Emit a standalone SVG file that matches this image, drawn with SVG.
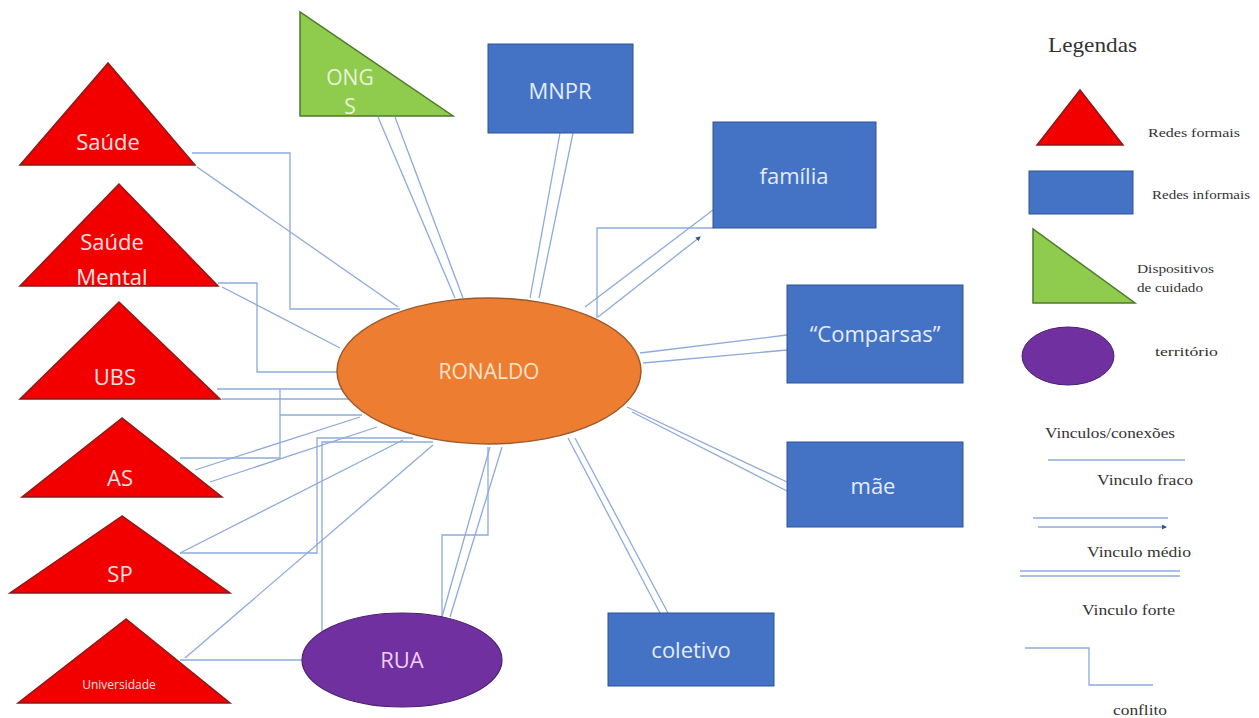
<svg xmlns="http://www.w3.org/2000/svg" width="1259" height="718" viewBox="0 0 1259 718">
<defs>
<style>
.c{fill:none;stroke:#8eaadb;stroke-width:1.3}
.tri{fill:#f20000;stroke:#8b1a1a;stroke-width:1.5}
.box{fill:#4472c4;stroke:#2f528f;stroke-width:1}
.grn{fill:#8fcb4c;stroke:#4e7a2a;stroke-width:1.5}
.lbl{font-family:"Open Sans","Liberation Sans",sans-serif;font-size:22px;text-anchor:middle}
.wr{fill:#fbe0e0}
.wb{fill:#e4ecfa}
.lg{font-family:"Liberation Serif",serif;font-size:14px;fill:#333333}
.ls{font-size:13px}
</style>
<marker id="arr" viewBox="0 0 10 10" refX="8" refY="5" markerWidth="5" markerHeight="5" orient="auto" markerUnits="userSpaceOnUse">
<path d="M0,0 L10,5 L0,10 z" fill="#2f5597"/>
</marker>
</defs>
<rect width="1259" height="718" fill="#ffffff"/>

<g id="connectors">
<line class="c" x1="197" y1="167" x2="398" y2="307"/>
<line class="c" x1="222" y1="287" x2="340" y2="348"/>
<line class="c" x1="180" y1="553" x2="403" y2="440"/>
<line class="c" x1="185" y1="658" x2="433" y2="445"/>
<line class="c" x1="180" y1="660" x2="303" y2="660"/>
<line class="c" x1="217" y1="389" x2="346" y2="389"/>
<line class="c" x1="222" y1="399" x2="350" y2="399"/>
<line class="c" x1="195" y1="470" x2="360" y2="417"/>
<line class="c" x1="210" y1="482" x2="377" y2="427"/>
<line class="c" x1="378" y1="117" x2="455" y2="298"/>
<line class="c" x1="395" y1="117" x2="463" y2="298"/>
<line class="c" x1="560" y1="133" x2="530" y2="298"/>
<line class="c" x1="573" y1="133" x2="539" y2="298"/>
<line class="c" x1="640" y1="353" x2="787" y2="335"/>
<line class="c" x1="643" y1="363" x2="787" y2="350"/>
<line class="c" x1="627" y1="407" x2="787" y2="482"/>
<line class="c" x1="632" y1="412" x2="787" y2="491"/>
<line class="c" x1="568" y1="438" x2="660" y2="613"/>
<line class="c" x1="575" y1="438" x2="668" y2="613"/>
<line class="c" x1="442" y1="617" x2="490" y2="447"/>
<line class="c" x1="450" y1="617" x2="502" y2="447"/>
<line class="c" x1="585" y1="307" x2="713" y2="210"/>
<line class="c" x1="598" y1="317" x2="700" y2="237" marker-end="url(#arr)"/>
<polyline class="c" points="192,153 290,153 290,309 400,309"/>
<polyline class="c" points="218,283 257,283 257,372 340,372"/>
<polyline class="c" points="180,458 280,458 280,415 362,415"/>
<line class="c" x1="280" y1="389" x2="280" y2="415"/>
<polyline class="c" points="180,553 317,553 317,438 413,438"/>
<polyline class="c" points="322,632 322,442 433,442"/>
<polyline class="c" points="442,617 442,535 488,535 488,447"/>
<polyline class="c" points="713,228 597,228 597,318"/>
</g>

<g id="saude"><polygon class="tri" points="108,63 20,165 195,165"/><text class="lbl wr" x="108" y="150">Saúde</text></g>
<g id="saude-mental"><polygon class="tri" points="119,184 20,286 218,286"/><text class="lbl wr" x="112" y="250">Saúde</text><text class="lbl wr" x="112" y="285">Mental</text></g>
<g id="ubs"><polygon class="tri" points="119,302 20,399 220,399"/><text class="lbl wr" x="115" y="385">UBS</text></g>
<g id="as"><polygon class="tri" points="122,418 22,497 222,497"/><text class="lbl wr" x="120" y="486">AS</text></g>
<g id="sp"><polygon class="tri" points="122,516 10,593 230,593"/><text class="lbl wr" x="120" y="582">SP</text></g>
<g id="universidade"><polygon class="tri" points="126,619 18,703 230,703"/><text class="lbl wr" x="119" y="689" style="font-size:12px">Universidade</text></g>

<g id="ongs"><polygon class="grn" points="300,12 300,116 453,116"/><text class="lbl" x="350" y="85" fill="#e8f5d8" style="font-size:21px">ONG</text><text class="lbl" x="350" y="114" fill="#e8f5d8" style="font-size:21px">S</text></g>
<g id="mnpr"><rect class="box" x="488" y="44" width="145" height="89"/><text class="lbl wb" x="560" y="99">MNPR</text></g>
<g id="familia"><rect class="box" x="713" y="122" width="163" height="106"/><text class="lbl wb" x="794" y="184">família</text></g>
<g id="comparsas"><rect class="box" x="787" y="285" width="176" height="98"/><text class="lbl wb" x="875" y="342">“Comparsas”</text></g>
<g id="mae"><rect class="box" x="787" y="442" width="176" height="85"/><text class="lbl wb" x="873" y="494">mãe</text></g>
<g id="coletivo"><rect class="box" x="608" y="613" width="166" height="73"/><text class="lbl wb" x="691" y="658">coletivo</text></g>

<g id="ronaldo"><ellipse cx="489" cy="371" rx="152" ry="73" fill="#ed7d31" stroke="#9c5a2c" stroke-width="1.5"/><text class="lbl" x="489" y="379" fill="#fde3cc" style="font-size:21px">RONALDO</text></g>
<g id="rua"><ellipse cx="402" cy="660" rx="100" ry="47" fill="#7030a0" stroke="#4b2070" stroke-width="1.2"/><text class="lbl" x="402" y="668" fill="#ecd0f6">RUA</text></g>

<g id="legend">
<text class="lg" x="1048" y="52" style="font-size:21px" textLength="89" lengthAdjust="spacingAndGlyphs">Legendas</text>
<polygon class="tri" points="1080,90 1037,145 1123,145"/>
<text class="lg ls" x="1148" y="137" textLength="92" lengthAdjust="spacingAndGlyphs">Redes formais</text>
<rect class="box" x="1029" y="171" width="104" height="43"/>
<text class="lg ls" x="1152" y="199" textLength="98" lengthAdjust="spacingAndGlyphs">Redes informais</text>
<polygon class="grn" points="1033,229 1033,303 1135,303"/>
<text class="lg ls" x="1137" y="273" textLength="77" lengthAdjust="spacingAndGlyphs">Dispositivos</text>
<text class="lg ls" x="1137" y="292" textLength="66" lengthAdjust="spacingAndGlyphs">de cuidado</text>
<ellipse cx="1068" cy="356" rx="46" ry="29" fill="#7030a0" stroke="#4b2070" stroke-width="1"/>
<text class="lg ls" x="1155" y="356" textLength="63" lengthAdjust="spacingAndGlyphs">território</text>
<text class="lg" x="1045" y="438" textLength="130" lengthAdjust="spacingAndGlyphs">Vinculos/conexões</text>
<line class="c" x1="1048" y1="460" x2="1185" y2="460"/>
<text class="lg" x="1097" y="485" textLength="96" lengthAdjust="spacingAndGlyphs">Vinculo  fraco</text>
<line class="c" x1="1033" y1="518" x2="1168" y2="518"/>
<line class="c" x1="1038" y1="527" x2="1166" y2="527" marker-end="url(#arr)"/>
<text class="lg" x="1087" y="557" textLength="104" lengthAdjust="spacingAndGlyphs">Vinculo  médio</text>
<line class="c" x1="1020" y1="571" x2="1180" y2="571"/>
<line class="c" x1="1020" y1="576" x2="1180" y2="576"/>
<text class="lg" x="1082" y="615" textLength="93" lengthAdjust="spacingAndGlyphs">Vinculo  forte</text>
<polyline class="c" points="1025,648 1089,648 1089,685 1153,685"/>
<text class="lg" x="1113" y="715" textLength="54" lengthAdjust="spacingAndGlyphs">conflito</text>
</g>
</svg>
